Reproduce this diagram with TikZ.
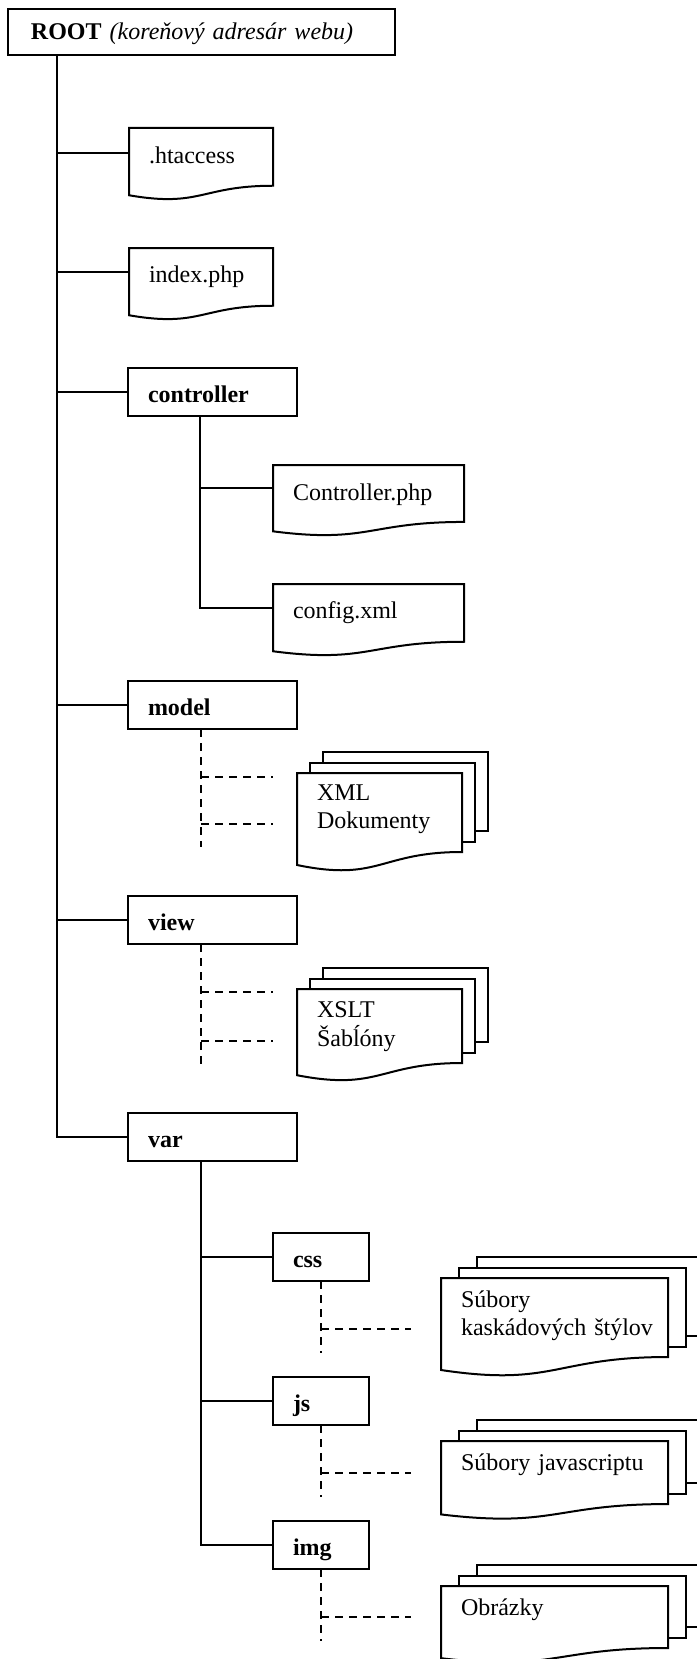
\documentclass[tikz,border=0pt]{standalone}
\usepackage{fontspec}
\setmainfont{Liberation Serif}
\usetikzlibrary{calc}
\tikzset{
  x=0.5pt, y=-0.5pt,
  every node/.style={font=\fontsize{12}{14}\selectfont},
  conn/.style={line width=1pt},
  dconn/.style={line width=1pt, dash pattern=on 4pt off 3pt},
  docline/.style={line width=1pt, line join=miter},
  folder/.style={draw, line width=1pt, anchor=north west, inner sep=0pt, outer sep=0pt,
    inner xsep=10pt, align=left, text height=17pt, text depth=7pt},
  bigfolder/.style={folder, text width=64.5pt},
  smallfolder/.style={folder, text width=28pt},
  docnode/.style={anchor=north west, inner sep=0pt, outer sep=0pt, inner xsep=10pt, align=left}
}
\newcommand\docpath[1]{%
  \draw[docline] (#1.north west) -- (#1.north east)
    -- ($(#1.north east)!0.802!(#1.south east)$)
    .. controls ($(#1.north)!0.802!(#1.south)$) and ($(#1.north)!1.1075!(#1.south)$)
    .. ($(#1.north west)!0.934!(#1.south west)$) -- cycle;}
\newcommand\stackpath[3]{%
  \draw[docline] ($(#1.north west)+(#2,0)$) -- ++(0,-#3)
    -- ($(#1.north east)+(#2,-#3)$)
    -- ($(#1.north east)!0.802!(#1.south east)+(#2,-#3)$)
    -- ($(#1.north east)!0.802!(#1.south east)+(0,-#3)$);
  \draw[docline] ($(#1.north west)+(2*#2,-#3)$) -- ++(0,-#3)
    -- ($(#1.north east)+(2*#2,-2*#3)$)
    -- ($(#1.north east)!0.802!(#1.south east)+(2*#2,-2*#3)$)
    -- ($(#1.north east)!0.802!(#1.south east)+(#2,-2*#3)$);}
\begin{document}
\begin{tikzpicture}
\useasboundingbox (0,0) rectangle (696,1659);

% root
\node[draw, line width=1pt, anchor=north west, inner sep=0pt, outer sep=0pt, inner xsep=11.5pt,
  text width=170.5pt, align=left, text height=15.5pt, text depth=7.5pt] (root) at (8,9)
  {\textbf{ROOT} \textit{(koreňový adresár webu)}};

% folders
\node[bigfolder] (controller) at (128,368) {\textbf{controller}};
\node[bigfolder] (model) at (128,681) {\textbf{model}};
\node[bigfolder] (view) at (128,896) {\textbf{view}};
\node[bigfolder] (var) at (128,1113) {\textbf{var}};
\node[smallfolder] (css) at (273,1233) {\textbf{css}};
\node[smallfolder] (js) at (273,1377) {\textbf{js}};
\node[smallfolder] (img) at (273,1521) {\textbf{img}};

% single documents
\node[docnode, text width=52pt, text height=17.5pt, text depth=18.5pt] (htaccess) at (129,128) {.htaccess};
\node[docnode, text width=52pt, text height=17pt, text depth=19pt] (index) at (129,248) {index.php};
\node[docnode, text width=75.5pt, text height=17.5pt, text depth=18pt] (ctrlphp) at (273,465) {Controller.php};
\node[docnode, text width=75.5pt, text height=17pt, text depth=19pt] (config) at (273,584) {config.xml};
\docpath{htaccess}
\docpath{index}
\docpath{ctrlphp}
\docpath{config}

% stacked documents
\node[docnode, text width=62.5pt, text height=13.5pt, text depth=35.75pt] (xmldocs) at (297,773)
  {\begin{tabular}[t]{@{}l@{}}XML\\Dokumenty\end{tabular}};
\node[docnode, text width=62.5pt, text height=14pt, text depth=32.15pt] (xslt) at (297,989)
  {\begin{tabular}[t]{@{}l@{}}XSLT\\Šabĺóny\end{tabular}};
\node[docnode, text width=93.5pt, text height=14.5pt, text depth=34.75pt] (cssfiles) at (441,1278)
  {\begin{tabular}[t]{@{}l@{}}Súbory\\kaskádových štýlov\end{tabular}};
\node[docnode, text width=93.5pt, text height=14.5pt, text depth=24.8pt] (jsfiles) at (441,1441)
  {Súbory javascriptu};
\node[docnode, text width=93.5pt, text height=14.5pt, text depth=24.15pt] (imgfiles) at (441,1586)
  {Obrázky};
\docpath{xmldocs}\stackpath{xmldocs}{13}{10.5}
\docpath{xslt}\stackpath{xslt}{13}{10.5}
\docpath{cssfiles}\stackpath{cssfiles}{18}{10.5}
\docpath{jsfiles}\stackpath{jsfiles}{18}{10.5}
\docpath{imgfiles}\stackpath{imgfiles}{18}{10.5}

% trunk from root
\coordinate (trunk) at ($(root.south west)+(49,0)$);
\draw[conn] (trunk) |- ($(htaccess.north west)+(0,25)$);
\draw[conn] (trunk) |- ($(index.north west)+(0,24)$);
\draw[conn] (trunk) |- (controller.west);
\draw[conn] (trunk) |- (model.west);
\draw[conn] (trunk) |- (view.west);
\draw[conn] (trunk) |- (var.west);

% controller children
\coordinate (cv) at ($(controller.south west)+(72,0)$);
\draw[conn] (cv) |- ($(ctrlphp.north west)+(0,23)$);
\draw[conn] (cv) |- ($(config.north west)+(0,24)$);

% model (dashed)
\coordinate (mv) at ($(model.south west)+(73,0)$);
\coordinate (mA) at ($(xmldocs.north west)+(-24,4)$);
\coordinate (mB) at ($(xmldocs.north west)+(-24,51)$);
\draw[dconn] (mv) -- ++(0,118);
\draw[dconn] (mv |- mA) -- (mA);
\draw[dconn] (mv |- mB) -- (mB);

% view (dashed)
\coordinate (vv) at ($(view.south west)+(73,0)$);
\coordinate (vA) at ($(xslt.north west)+(-24,3)$);
\coordinate (vB) at ($(xslt.north west)+(-24,52)$);
\draw[dconn] (vv) -- ++(0,121);
\draw[dconn] (vv |- vA) -- (vA);
\draw[dconn] (vv |- vB) -- (vB);

% var children
\coordinate (vr) at ($(var.south west)+(73,0)$);
\draw[conn] (vr) |- (css.west);
\draw[conn] (vr) |- (js.west);
\draw[conn] (vr) |- (img.west);

% css / js / img (dashed)
\coordinate (cs) at ($(css.south west)+(48,0)$);
\coordinate (csA) at ($(cssfiles.north west)+(-30,51)$);
\draw[dconn] (cs) -- ++(0,72);
\draw[dconn] (cs |- csA) -- (csA);

\coordinate (jv) at ($(js.south west)+(48,0)$);
\coordinate (jsA) at ($(jsfiles.north west)+(-30,32)$);
\draw[dconn] (jv) -- ++(0,72);
\draw[dconn] (jv |- jsA) -- (jsA);

\coordinate (iv) at ($(img.south west)+(48,0)$);
\coordinate (imA) at ($(imgfiles.north west)+(-30,31)$);
\draw[dconn] (iv) -- ++(0,72);
\draw[dconn] (iv |- imA) -- (imA);
\end{tikzpicture}
\end{document}
